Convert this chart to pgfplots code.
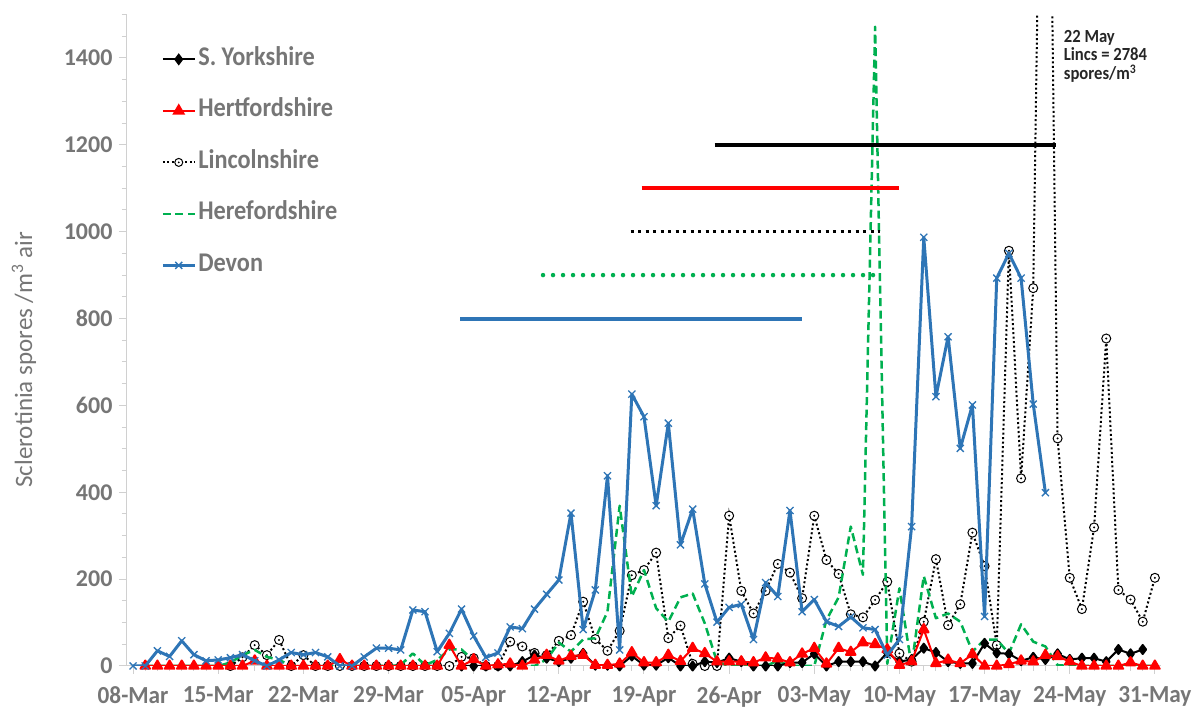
\documentclass[border=0pt]{standalone}
\usepackage{fontspec}
\setmainfont{Carlito}
\newfontfamily\calsq{Carlito}[FakeStretch=0.9]
\newfontfamily\calx{Carlito}[FakeStretch=0.95]
\usepackage{pgfplots}
\usepackage{pgfplotstable}
\pgfplotsset{compat=1.18}
\definecolor{tickgray}{HTML}{767676}
\definecolor{axgray}{HTML}{D0D0D0}
\definecolor{devon}{HTML}{2E75B6}
\definecolor{hereg}{HTML}{00B050}
\definecolor{hertr}{HTML}{FF0000}
\definecolor{anno}{HTML}{262626}

\pgfdeclareplotmark{odot}{%
  \pgfpathcircle{\pgfpointorigin}{\pgfplotmarksize}\pgfusepathqfillstroke
  \begin{pgfscope}\pgfsetfillcolor{black}%
  \pgfpathcircle{\pgfpointorigin}{0.25\pgfplotmarksize}\pgfusepathqfill\end{pgfscope}}

\newcommand{\xtickfont}{\calx\bfseries\fontsize{24.5}{28}\selectfont}
\newcommand{\ytickfont}{\bfseries\fontsize{24}{28}\selectfont}
\newcommand{\legfont}{\calsq\bfseries\fontsize{27}{31}\selectfont}

% day index: 0 = 08-Mar
\pgfplotstableread{
d v
0 0
1 0
2 35
3 22
4 58
5 26
6 12
7 14
8 19
9 26
10 12
11 0
12 14
13 31
14 26
15 31
16 21
17 0
18 0
19 21
20 41
21 41
22 37
23 129
24 125
25 33
26 75
27 131
28 69
29 20
30 30
31 90
32 86
33 131
34 165
35 198
36 352
37 84
38 175
39 438
40 37
41 626
42 574
43 369
44 559
45 279
46 361
47 189
48 101
49 135
50 142
51 61
52 192
53 160
54 358
55 125
56 153
57 102
58 91
59 113
60 88
61 84
62 25
63 61
64 321
65 987
66 620
67 758
68 501
69 601
70 114
71 893
72 950
73 893
74 603
75 399
}\devon

\pgfplotstableread{
d v
1 0
2 0
3 0
4 0
5 0
6 0
7 0
8 0
9 0
10 12
11 0
12 0
13 0
14 0
15 0
16 0
17 15
18 0
19 0
20 0
21 0
22 0
23 0
24 0
25 0
26 48
27 0
28 15
29 0
30 3
31 5
32 0
33 14
34 25
35 12
36 23
37 25
38 2
39 2
40 5
41 31
42 8
43 8
44 25
45 11
46 41
47 29
48 10
49 10
50 10
51 8
52 19
53 17
54 8
55 28
56 41
57 5
58 41
59 32
60 54
61 50
62 38
63 2
64 10
65 84
66 6
67 14
68 6
69 27
70 0
71 0
72 4
73 12
74 10
75 25
76 22
77 10
78 0
79 0
80 0
81 0
82 8
83 0
84 0
}\herts

\pgfplotstableread{
d v
27 0
28 0
29 0
30 0
31 0
32 10
33 25
34 18
35 10
36 18
37 29
38 2
39 2
40 0
41 23
42 2
43 2
44 19
45 0
46 0
47 10
48 8
49 18
50 10
51 0
52 0
53 0
54 8
55 8
56 28
57 0
58 10
59 10
60 10
61 0
62 31
63 10
64 15
65 41
66 31
67 10
68 6
69 6
70 52
71 30
72 28
73 12
74 20
75 15
76 28
77 15
78 18
79 18
80 10
81 38
82 28
83 38
}\syorks

\pgfplotstableread{
d v
8 0
9 20
10 48
11 25
12 60
13 0
14 25
15 0
16 0
17 0
18 0
19 0
20 0
21 0
22 0
23 0
24 0
25 0
26 0
27 21
28 18
29 0
30 0
31 56
32 45
33 30
34 25
35 58
36 71
37 148
38 62
39 35
40 81
41 209
42 221
43 261
44 64
45 93
46 5
47 0
48 0
49 346
50 173
51 121
52 173
53 235
54 215
55 156
56 346
57 244
58 212
59 119
60 112
61 152
62 194
63 29
64 10
65 102
66 246
67 94
68 142
69 307
70 230
71 48
72 956
73 432
74 870
75 2784
76 524
77 203
78 131
79 319
80 754
81 175
82 153
83 102
84 203
}\lincs

\pgfplotstableread{
d v
1 0
2 0
3 0
4 0
5 0
6 0
7 0
8 8
9 25
10 37
11 21
12 14
13 0
14 0
15 0
16 0
17 0
18 0
19 0
20 0
21 0
22 2
23 29
24 2
25 14
26 38
27 38
28 12
29 2
30 0
31 0
32 0
33 0
34 15
35 54
36 33
37 61
38 64
39 125
40 369
41 160
42 221
43 133
44 102
45 158
46 167
47 98
48 10
49 0
50 0
51 0
52 0
53 12
54 0
55 0
56 0
57 106
58 158
59 321
60 210
61 1472
62 5
63 179
64 0
65 207
66 110
67 121
68 102
69 33
70 61
71 61
72 29
73 96
74 56
75 45
76 2
77 0
78 0
79 0
80 0
81 0
82 0
83 0
84 0
}\heref

\begin{document}
\begin{tikzpicture}[x=1pt,y=1pt]
\path[use as bounding box] (-127,-43) rectangle (1065,666);
\begin{axis}[
  at={(0,0)}, anchor=south west,
  scale only axis, width=1034pt, height=651.5pt,
  xmin=-0.5, xmax=84.5, ymin=0, ymax=1500,
  axis x line*=bottom, axis y line*=left,
  axis line style={-, draw=axgray, line width=1pt},
  xtick={0,7,...,84},
  xticklabels={08-Mar,15-Mar,22-Mar,29-Mar,05-Apr,12-Apr,19-Apr,26-Apr,03-May,10-May,17-May,24-May,31-May},
  minor xtick={0,1,...,84},
  ytick={0,200,...,1400},
  minor ytick={50,100,...,1500},
  tick align=outside,
  major tick length=8pt, minor tick length=5pt,
  tick style={draw=axgray, line width=1pt},
  xticklabel style={font=\xtickfont, text=tickgray, yshift=-9pt},
  yticklabel style={font=\ytickfont, text=tickgray, xshift=-3pt},
  /pgf/number format/assume math mode=true,
  /pgf/number format/1000 sep={},
  ylabel={Sclerotinia spores /m\textsuperscript{3} air},
  ylabel style={font=\fontsize{25}{30}\selectfont, text=tickgray,
    at={(axis description cs:-0.0996,0.47)}, anchor=center, rotate=0},
  clip mode=individual,
  legend cell align=left,
  legend style={at={(axis cs:2.30,1427)}, anchor=north west,
    draw=none, fill=none, inner sep=0pt,
    row sep=25.5pt, font=\legfont, text=tickgray,
    nodes={inner sep=2pt, text height=17pt, text depth=5pt}},
  legend image code/.code={\draw[mark repeat=2,mark phase=2,#1] plot coordinates {(0pt,0pt) (16pt,0pt) (32pt,0pt)};},
]
\addlegendimage{black, line width=2pt, mark=diamond*, mark size=4.5pt}
\addlegendentry{S. Yorkshire}
\addlegendimage{hertr, line width=2pt, mark=triangle*, mark size=5.5pt}
\addlegendentry{Hertfordshire}
\addlegendimage{black, line width=2pt, dash pattern=on 2pt off 2.5pt, mark=odot, mark size=4pt, mark options={solid, fill=white, draw=black, line width=1pt}}
\addlegendentry{Lincolnshire}
\addlegendimage{hereg, line width=2.5pt, dash pattern=on 8pt off 4.5pt}
\addlegendentry{Herefordshire}
\addlegendimage{devon, line width=3pt, mark=x, mark size=5pt, mark options={line width=1.3pt}}
\addlegendentry{Devon}

\addplot[forget plot, black, line width=2pt, dash pattern=on 2pt off 2.5pt, mark=odot, mark size=4.5pt, mark options={solid, fill=white, draw=black, line width=1pt}] table[x=d,y=v] {\lincs};
\addplot[forget plot, hereg, line width=2.5pt, dash pattern=on 8pt off 4.5pt, line join=round] table[x=d,y=v] {\heref};
\addplot[forget plot, black, line width=2pt, mark=diamond*, mark size=4.5pt, line join=round] table[x=d,y=v] {\syorks};
\addplot[forget plot, hertr, line width=2pt, mark=triangle*, mark size=5.5pt, line join=round] table[x=d,y=v] {\herts};
\addplot[forget plot, devon, line width=3pt, mark=x, mark size=5pt, mark options={line width=1.3pt}, line join=round] table[x=d,y=v] {\devon};

% period bars
\addplot[forget plot, black, line width=4pt] coordinates {(47.8,1200) (75.9,1200)};
\addplot[forget plot, hertr, line width=3.5pt] coordinates {(41.8,1100) (63.0,1100)};
\addplot[forget plot, black, line width=3pt, dash pattern=on 3pt off 4.5pt] coordinates {(40.9,1000) (61.4,1000)};
\addplot[forget plot, hereg, line width=4.5pt, line cap=round, dash pattern=on 0pt off 10pt] coordinates {(33.7,900) (61.6,900)};
\addplot[forget plot, devon, line width=4pt] coordinates {(26.9,800) (55.0,800)};

\node[anchor=north west, inner sep=0pt, align=left, text=anno,
  font=\calsq\bfseries\fontsize{18.5}{18.5}\selectfont] at (axis cs:76.5,1464)
  {22 May\\Lincs = 2784\\spores/m\textsuperscript{3}};
\end{axis}
\end{tikzpicture}
\end{document}
